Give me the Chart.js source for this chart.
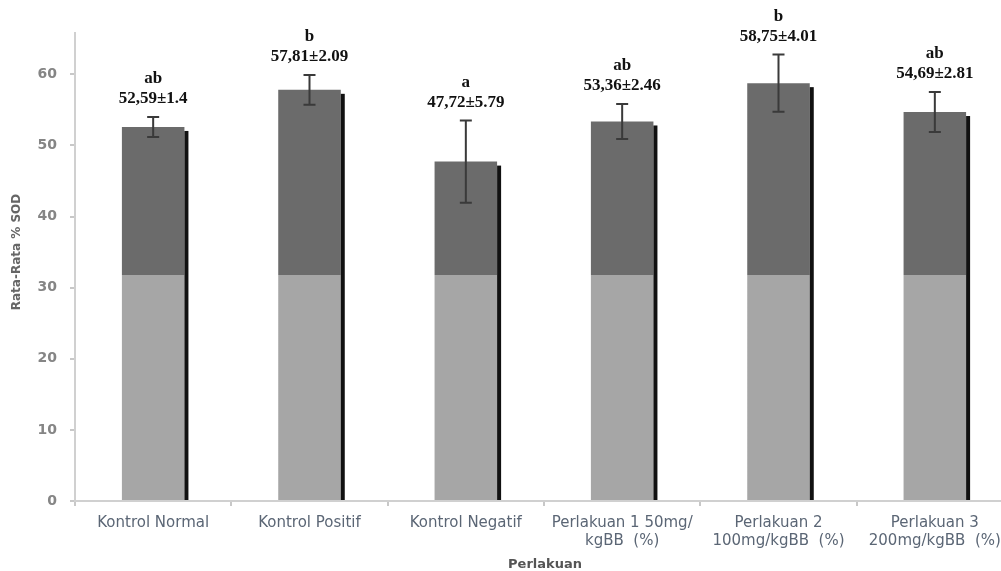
<!DOCTYPE html>
<html>
<head>
<meta charset="utf-8">
<script src="https://cdn.jsdelivr.net/npm/chart.js@4"></script>
<style>
  html, body { margin: 0; padding: 0; background: #fff; overflow: hidden; }
  #wrap { width: 1020px; height: 571px; position: relative; }
</style>
</head>
<body>
<div id="wrap"><canvas id="chart"></canvas></div>
<script>
// data
const categories = [
    ["Kontrol Normal"],
    ["Kontrol Positif"],
    ["Kontrol Negatif"],
    ["Perlakuan 1 50mg/", "kgBB  (%)"],
    ["Perlakuan 2", "100mg/kgBB  (%)"],
    ["Perlakuan 3", "200mg/kgBB  (%)"]
];
const means = [52.59, 57.81, 47.72, 53.36, 58.75, 54.69];
const sds = [1.4, 2.09, 5.79, 2.46, 4.01, 2.81];
const letters = ["ab", "b", "a", "ab", "b", "ab"];
const valueLabels = ["52,59±1.4", "57,81±2.09", "47,72±5.79", "53,36±2.46", "58,75±4.01", "54,69±2.81"];
const yTicks = [0, 10, 20, 30, 40, 50, 60];

const yTitle = "Rata-Rata % SOD";
const xTitle = "Perlakuan";

// bars are darker above this level, lighter below
const shadeSplit = 31.75;

function barColor(ctx) {
    let chart = ctx.chart;
    let area = chart.chartArea;
    if (!area) return "#6b6b6b";
    let y = chart.scales.y.getPixelForValue(shadeSplit);
    let t = (y - area.top) / (area.bottom - area.top);
    let g = chart.ctx.createLinearGradient(0, area.top, 0, area.bottom);
    g.addColorStop(0, "#6b6b6b");
    g.addColorStop(t, "#6b6b6b");
    g.addColorStop(t, "#a6a6a6");
    g.addColorStop(1, "#a6a6a6");
    return g;
}

// shadow strip, error bars and the letter/value labels
const extras = {
    id: "extras",
    afterDatasetsDraw(chart) {
        let ctx = chart.ctx;
        let y = chart.scales.y;
        let bars = chart.getDatasetMeta(0).data;
        ctx.save();
        bars.forEach((bar, i) => {
            let right = bar.x + bar.width / 2;
            ctx.fillStyle = "#111";
            ctx.fillRect(right, bar.y + 4, 4, bar.base - bar.y - 4);

            let top = y.getPixelForValue(means[i] + sds[i]);
            let bot = y.getPixelForValue(means[i] - sds[i]);
            ctx.strokeStyle = "#3a3a3a";
            ctx.lineWidth = 2;
            ctx.beginPath();
            ctx.moveTo(bar.x, top);
            ctx.lineTo(bar.x, bot);
            ctx.moveTo(bar.x - 6, top);
            ctx.lineTo(bar.x + 6, top);
            ctx.moveTo(bar.x - 6, bot);
            ctx.lineTo(bar.x + 6, bot);
            ctx.stroke();

            ctx.fillStyle = "#111";
            ctx.font = "bold 17px 'Liberation Serif'";
            ctx.textAlign = "center";
            ctx.textBaseline = "middle";
            ctx.fillText(valueLabels[i], bar.x, top - 18);
            ctx.fillText(letters[i], bar.x, top - 38);
        });

        ctx.fillStyle = "#666";
        ctx.font = "bold 12px 'DejaVu Sans'";
        ctx.translate(17, 252);
        ctx.rotate(-Math.PI / 2);
        ctx.textAlign = "center";
        ctx.textBaseline = "middle";
        ctx.fillText(yTitle, 0, 0);
        ctx.restore();

        ctx.save();
        ctx.fillStyle = "#555";
        ctx.font = "bold 13px 'DejaVu Sans'";
        ctx.textAlign = "center";
        ctx.textBaseline = "middle";
        ctx.fillText(xTitle, 545, 565);
        ctx.restore();
    }
};

new Chart(document.getElementById("chart"), {
    type: "bar",
    data: {
        labels: categories,
        datasets: [{
            data: means,
            backgroundColor: barColor,
            borderWidth: 0,
            barPercentage: 0.4,
            categoryPercentage: 1
        }]
    },
    options: {
        responsive: true,
        maintainAspectRatio: false,
        animation: false,
        layout: { padding: { top: 33, right: 7, left: 0, bottom: 0 } },
        plugins: {
            legend: { display: false },
            tooltip: { enabled: false }
        },
        scales: {
            x: {
                grid: { drawOnChartArea: false, drawTicks: true, tickLength: 5, color: "#c8c8c8", lineWidth: 2 },
                border: { display: true, color: "#d0d0d0", width: 2 },
                ticks: {
                    color: "#5b6675",
                    font: { family: "DejaVu Sans", size: 15, lineHeight: 1.2 },
                    padding: 8,
                    maxRotation: 0,
                    autoSkip: false
                },
                afterFit: s => { s.height = 70; }
            },
            y: {
                min: 0,
                max: 65.8,
                grid: { drawOnChartArea: false, drawTicks: true, tickLength: 5, color: "#c8c8c8", lineWidth: 2 },
                border: { display: true, color: "#d0d0d0", width: 2 },
                ticks: {
                    stepSize: 10,
                    color: "#858585",
                    font: { family: "DejaVu Sans", size: 14, weight: "bold" },
                    padding: 13
                },
                afterBuildTicks: s => { s.ticks = s.ticks.filter(t => yTicks.includes(t.value)); },
                afterFit: s => { s.width = 75; }
            }
        }
    },
    plugins: [extras]
});
</script>
</body>
</html>
